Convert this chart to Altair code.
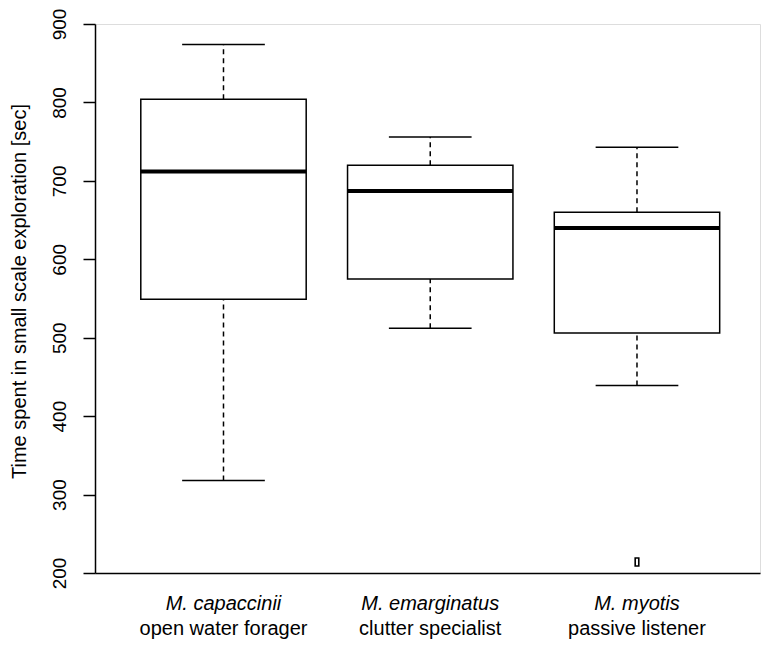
import altair as alt
import pandas as pd

# ---- data ----
positions = [1, 2, 3]
species = ["M. capaccinii", "M. emarginatus", "M. myotis"]
guilds = ["open water forager", "clutter specialist", "passive listener"]
whisker_low = [318, 512, 439]
q1 = [549, 575, 506]
median = [712, 687, 640]
q3 = [804, 720, 660]
whisker_high = [874, 756, 743]
outlier_pos = [3]
outlier_val = [214]
y_ticks = [200, 300, 400, 500, 600, 700, 800, 900]

FONT = "Liberation Sans"
W, H = 665, 549

boxes = pd.DataFrame({
    "pos": positions, "species": species, "guild": guilds,
    "lo": whisker_low, "q1": q1, "med": median, "q3": q3, "hi": whisker_high,
})
outliers = pd.DataFrame({"pos": outlier_pos, "val": outlier_val})

xscale = alt.Scale(domain=[0.3785, 3.595], nice=False, zero=False)
yscale = alt.Scale(domain=[200, 900], nice=False, zero=False)

xaxis = alt.Axis(title=None, labels=False, ticks=False, grid=False, domain=True,
                 domainColor="black", domainWidth=1.5)
yaxis = alt.Axis(title="Time spent in small scale exploration [sec]", values=y_ticks,
                 grid=False, domainColor="black", domainWidth=1.5,
                 tickColor="black", tickWidth=1.5, tickSize=12,
                 labelAngle=270, labelAlign="center", labelBaseline="alphabetic",
                 labelPadding=18, labelFont=FONT, labelFontSize=19, labelColor="black",
                 labelOverlap=False,
                 titleFont=FONT, titleFontSize=20, titleFontWeight="normal", titleColor="black",
                 titleAngle=270, titleX=-70, titleY=H / 2 - 7.5, titleAlign="center",
                 titleBaseline="alphabetic")

base = alt.Chart(boxes).transform_calculate(
    left="datum.pos - 0.4", right="datum.pos + 0.4",
    capl="datum.pos - 0.2", capr="datum.pos + 0.2",
)

whisk_up = base.mark_rule(color="black", strokeWidth=1.5, strokeDash=[5, 4]).encode(
    x=alt.X("pos:Q", scale=xscale, axis=xaxis),
    y=alt.Y("q3:Q", scale=yscale, axis=yaxis),
    y2="hi:Q",
)
whisk_dn = base.mark_rule(color="black", strokeWidth=1.5, strokeDash=[5, 4]).encode(
    x="pos:Q", y="lo:Q", y2="q1:Q",
)
cap_hi = base.mark_rule(color="black", strokeWidth=1.5).encode(
    x="capl:Q", x2="capr:Q", y="hi:Q",
)
cap_lo = base.mark_rule(color="black", strokeWidth=1.5).encode(
    x="capl:Q", x2="capr:Q", y="lo:Q",
)
box = base.mark_rect(fill="white", stroke="black", strokeWidth=1.5).encode(
    x="left:Q", x2="right:Q", y="q1:Q", y2="q3:Q",
)
med = base.mark_rule(color="black", strokeWidth=4).encode(
    x="left:Q", x2="right:Q", y="med:Q",
)
outl = alt.Chart(outliers).mark_point(
    shape="M-0.45,-1L0.45,-1L0.45,1L-0.45,1Z", size=64, filled=False,
    stroke="black", strokeWidth=1.6, opacity=1,
).encode(x="pos:Q", y="val:Q")

lab1 = base.mark_text(font=FONT, fontSize=20, fontStyle="italic", color="black",
                      baseline="alphabetic", align="center").encode(
    x="pos:Q", y=alt.value(H + 36.5), text="species:N",
)
lab2 = base.mark_text(font=FONT, fontSize=20, color="black",
                      baseline="alphabetic", align="center").encode(
    x="pos:Q", y=alt.value(H + 62), text="guild:N",
)

chart = alt.layer(whisk_up, whisk_dn, cap_hi, cap_lo, box, med, outl, lab1, lab2).properties(
    width=W, height=H,
    autosize=alt.AutoSizeParams(type="none"),
    padding={"left": 87, "top": 16, "right": 2, "bottom": 67},
).configure_view(stroke=None).configure(background="white")

chart.save("out.html", embed_options={"renderer": "svg", "actions": False})
